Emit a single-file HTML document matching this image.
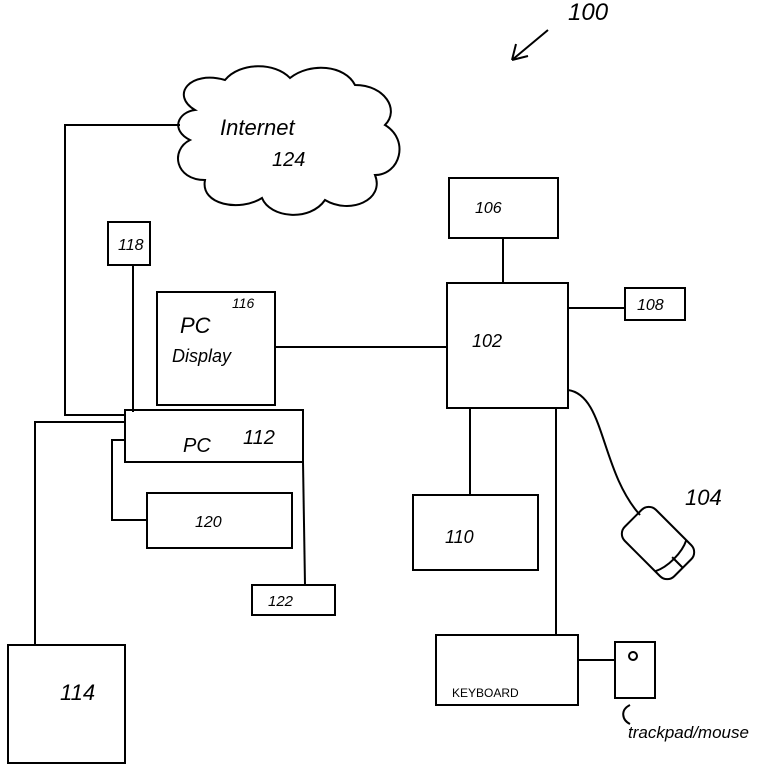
<!DOCTYPE html>
<html><head><meta charset="utf-8"><style>
html,body{margin:0;padding:0;background:#fff;}
svg{display:block;}
text{font-family:"Liberation Sans",sans-serif;fill:#000;font-style:italic;}
</style></head><body>
<svg width="775" height="766" viewBox="0 0 775 766" xmlns="http://www.w3.org/2000/svg" fill="none" stroke="#000" stroke-width="2">
<text x="568" y="20" font-size="24" stroke="none">100</text>
<path d="M548 30 L512 60 M512 60 L516 44 M512 60 L528 56"/>
<path d="M195 110 C170 95 190 70 225 80 C240 62 275 62 290 78 C310 62 345 65 355 85 C385 85 400 110 385 125 C410 140 400 175 375 175 C385 200 350 215 325 200 C310 222 270 218 262 198 C240 212 200 205 205 180 C175 180 170 150 190 140 C170 130 178 112 195 110 Z"/>
<text x="220" y="135" font-size="22" stroke="none">Internet</text>
<text x="272" y="166" font-size="20" stroke="none">124</text>
<path d="M180 125 L65 125 L65 415 L125 415"/>
<rect x="108" y="222" width="42" height="43"/>
<text x="118" y="250" font-size="16" stroke="none">118</text>
<path d="M133 265 L133 412"/>
<rect x="157" y="292" width="118" height="113"/>
<text x="180" y="333" font-size="22" stroke="none">PC</text>
<text x="232" y="308" font-size="14" stroke="none">116</text>
<text x="172" y="362" font-size="18" stroke="none">Display</text>
<path d="M275 347 L447 347"/>
<rect x="447" y="283" width="121" height="125"/>
<text x="472" y="347" font-size="18" stroke="none">102</text>
<rect x="449" y="178" width="109" height="60"/>
<text x="475" y="213" font-size="16" stroke="none">106</text>
<path d="M503 238 L503 283"/>
<rect x="625" y="288" width="60" height="32"/>
<text x="637" y="310" font-size="16" stroke="none">108</text>
<path d="M568 308 L625 308"/>
<path d="M568 390 C605 395 600 470 640 515"/>
<g transform="translate(658,543) rotate(-45)">
<rect x="-22" y="-35" width="44" height="70" rx="10"/>
<path d="M-22 18 C-10 24 10 24 22 18"/>
<path d="M0 20 L0 35"/>
</g>
<text x="685" y="505" font-size="22" stroke="none">104</text>
<path d="M470 408 L470 495"/>
<rect x="413" y="495" width="125" height="75"/>
<text x="445" y="543" font-size="18" stroke="none">110</text>
<path d="M556 408 L556 635"/>
<rect x="436" y="635" width="142" height="70"/>
<text x="452" y="697" font-size="12" stroke="none" style="font-style:normal">KEYBOARD</text>
<path d="M578 660 L615 660"/>
<rect x="615" y="642" width="40" height="56"/>
<circle cx="633" cy="656" r="4"/>
<path d="M630 705 C620 710 622 720 630 724"/>
<text x="628" y="738" font-size="17" stroke="none">trackpad/mouse</text>
<rect x="125" y="410" width="178" height="52"/>
<text x="183" y="452" font-size="20" stroke="none">PC</text>
<text x="243" y="444" font-size="20" stroke="none">112</text>
<path d="M125 422 L35 422 L35 645"/>
<rect x="8" y="645" width="117" height="118"/>
<text x="60" y="700" font-size="22" stroke="none">114</text>
<path d="M125 440 L112 440 L112 520 L147 520"/>
<rect x="147" y="493" width="145" height="55"/>
<text x="195" y="527" font-size="16" stroke="none">120</text>
<path d="M303 462 L305 585"/>
<rect x="252" y="585" width="83" height="30"/>
<text x="268" y="606" font-size="15" stroke="none">122</text>
</svg>
</body></html>
